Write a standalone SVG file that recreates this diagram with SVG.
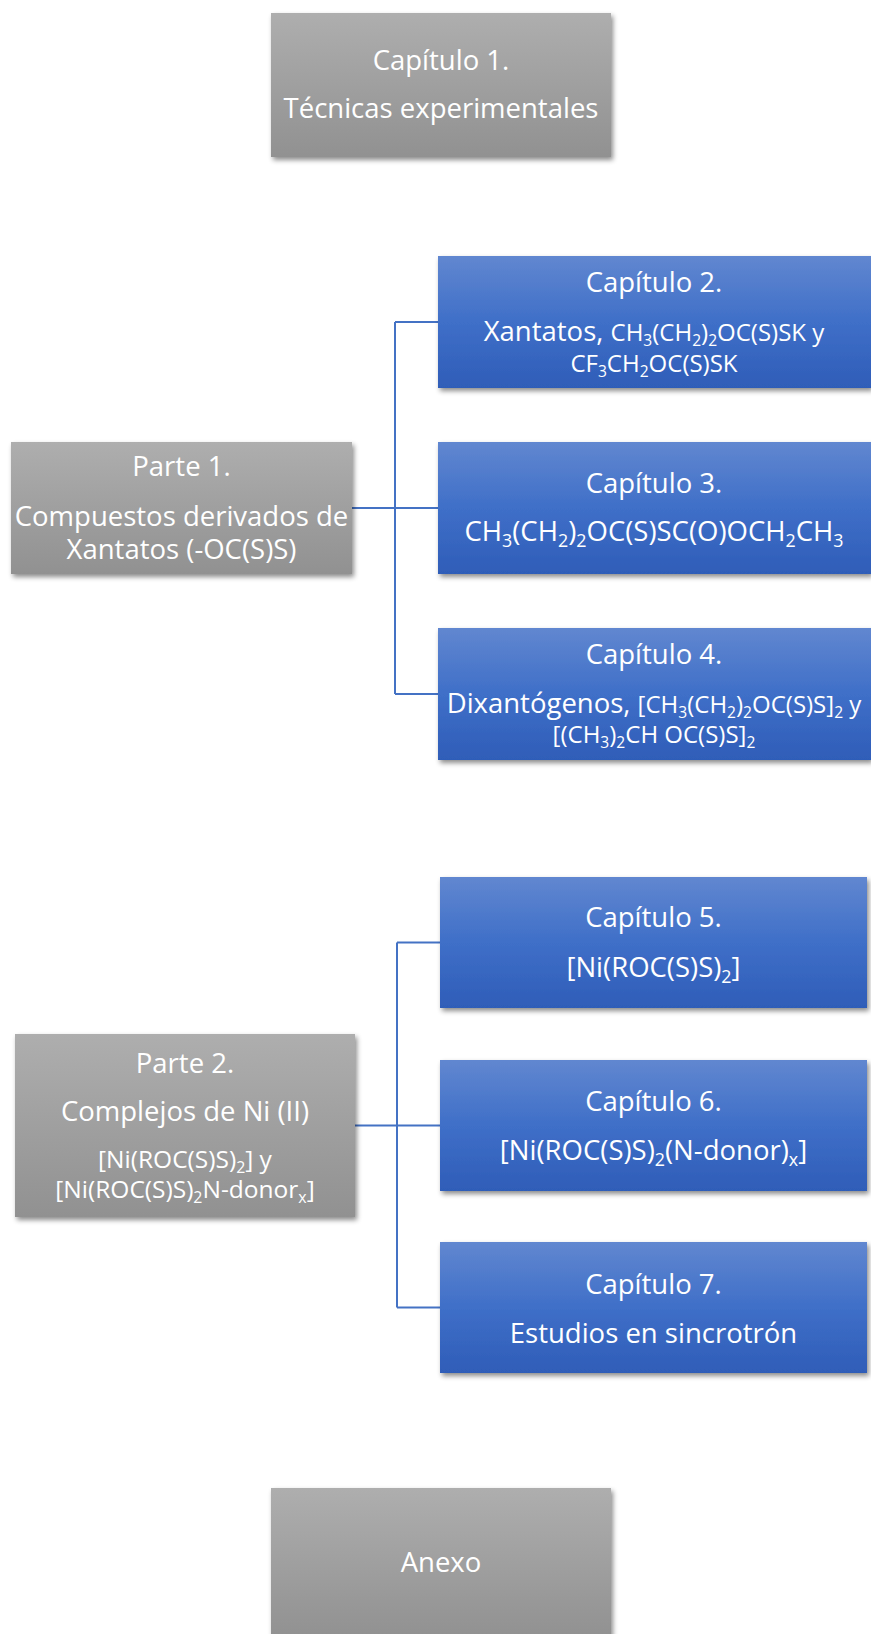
<svg xmlns="http://www.w3.org/2000/svg" width="871" height="1634" viewBox="0 0 871 1634">
<defs>
<linearGradient id="gGray" x1="0" y1="0" x2="0" y2="1">
<stop offset="0" stop-color="#AEAEAE"/>
<stop offset="1" stop-color="#919191"/>
</linearGradient>
<linearGradient id="gBlue" x1="0" y1="0" x2="0" y2="1">
<stop offset="0" stop-color="#6187D0"/>
<stop offset="0.5" stop-color="#3F6FC8"/>
<stop offset="1" stop-color="#2F5DB8"/>
</linearGradient>
<filter id="sh" x="-5%" y="-10%" width="112%" height="125%">
<feDropShadow dx="2" dy="3" stdDeviation="2.5" flood-color="#000" flood-opacity="0.45"/>
</filter>
</defs>
<style>
.gray{fill:url(#gGray);filter:url(#sh)}
.blue{fill:url(#gBlue);filter:url(#sh)}
text{font-family:"Open Sans","Noto Sans","DejaVu Sans",sans-serif;fill:#fff;text-anchor:middle;font-size:27.5px}
.f{font-size:24px}
.p{font-size:24.5px}
.s{font-size:65%}
.conn{fill:none;stroke:#4472C4;stroke-width:2}
</style>

<g id="connectors">
<path class="conn" d="M352,508 H438"/>
<path class="conn" d="M395,322 V694 M395,322 H438 M395,694 H438"/>
<path class="conn" d="M355,1125.5 H440"/>
<path class="conn" d="M397,942.5 V1307.5 M397,942.5 H440 M397,1307.5 H440"/>
</g>

<g id="cap1">
<rect class="gray" x="271" y="13" width="340" height="144"/>
<text x="441" y="70">Capítulo 1.</text>
<text x="441" y="118">Técnicas experimentales</text>
</g>

<g id="parte1">
<rect class="gray" x="11" y="442" width="341" height="132"/>
<text x="181.5" y="476">Parte 1.</text>
<text x="181.5" y="526">Compuestos derivados de</text>
<text x="181.5" y="559">Xantatos (-OC(S)S)</text>
</g>

<g id="cap2">
<rect class="blue" x="438" y="256" width="433" height="132"/>
<text x="654" y="292">Capítulo 2.</text>
<text x="654" y="341">Xantatos, <tspan class="f">CH<tspan class="s" dy="5">3</tspan><tspan dy="-5">(CH</tspan><tspan class="s" dy="5">2</tspan><tspan dy="-5">)</tspan><tspan class="s" dy="5">2</tspan><tspan dy="-5">OC(S)SK y</tspan></tspan></text>
<text x="654" y="372" class="f">CF<tspan class="s" dy="5">3</tspan><tspan dy="-5">CH</tspan><tspan class="s" dy="5">2</tspan><tspan dy="-5">OC(S)SK</tspan></text>
</g>

<g id="cap3">
<rect class="blue" x="438" y="442" width="433" height="132"/>
<text x="654" y="493">Capítulo 3.</text>
<text x="654" y="541">CH<tspan class="s" dy="6">3</tspan><tspan dy="-6">(CH</tspan><tspan class="s" dy="6">2</tspan><tspan dy="-6">)</tspan><tspan class="s" dy="6">2</tspan><tspan dy="-6">OC(S)SC(O)OCH</tspan><tspan class="s" dy="6">2</tspan><tspan dy="-6">CH</tspan><tspan class="s" dy="6">3</tspan></text>
</g>

<g id="cap4">
<rect class="blue" x="438" y="628" width="433" height="132"/>
<text x="654" y="664">Capítulo 4.</text>
<text x="654" y="713">Dixantógenos, <tspan class="f">[CH<tspan class="s" dy="5">3</tspan><tspan dy="-5">(CH</tspan><tspan class="s" dy="5">2</tspan><tspan dy="-5">)</tspan><tspan class="s" dy="5">2</tspan><tspan dy="-5">OC(S)S]</tspan><tspan class="s" dy="5">2</tspan><tspan dy="-5"> y</tspan></tspan></text>
<text x="654" y="743" class="f">[(CH<tspan class="s" dy="5">3</tspan><tspan dy="-5">)</tspan><tspan class="s" dy="5">2</tspan><tspan dy="-5">CH OC(S)S]</tspan><tspan class="s" dy="5">2</tspan></text>
</g>

<g id="parte2">
<rect class="gray" x="15" y="1034" width="340" height="183"/>
<text x="185" y="1073">Parte 2.</text>
<text x="185" y="1121">Complejos de Ni (II)</text>
<text x="185" y="1168" class="p">[Ni(ROC(S)S)<tspan class="s" dy="5">2</tspan><tspan dy="-5">] y</tspan></text>
<text x="185" y="1198" class="p">[Ni(ROC(S)S)<tspan class="s" dy="5">2</tspan><tspan dy="-5">N-donor</tspan><tspan class="s" dy="5">x</tspan><tspan dy="-5">]</tspan></text>
</g>

<g id="cap5">
<rect class="blue" x="440" y="877" width="427" height="131"/>
<text x="653.5" y="927">Capítulo 5.</text>
<text x="653.5" y="977">[Ni(ROC(S)S)<tspan class="s" dy="6">2</tspan><tspan dy="-6">]</tspan></text>
</g>

<g id="cap6">
<rect class="blue" x="440" y="1060" width="427" height="131"/>
<text x="653.5" y="1111">Capítulo 6.</text>
<text x="653.5" y="1160">[Ni(ROC(S)S)<tspan class="s" dy="6">2</tspan><tspan dy="-6">(N-donor)</tspan><tspan class="s" dy="6">x</tspan><tspan dy="-6">]</tspan></text>
</g>

<g id="cap7">
<rect class="blue" x="440" y="1242" width="427" height="131"/>
<text x="653.5" y="1294">Capítulo 7.</text>
<text x="653.5" y="1343">Estudios en sincrotrón</text>
</g>

<g id="anexo">
<rect class="gray" x="271" y="1488" width="340" height="150"/>
<text x="441" y="1572">Anexo</text>
</g>
</svg>
